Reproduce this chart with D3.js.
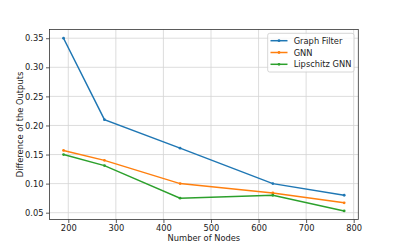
<!DOCTYPE html>
<html><head><meta charset="utf-8">
<script src="https://cdn.jsdelivr.net/npm/d3@7"></script>
<style>body{margin:0;background:#fff}svg{display:block}text{font-family:"DejaVu Sans",sans-serif;fill:#222}</style>
</head><body><svg id="c" width="398" height="247"></svg>
<script>
const nodes = [190, 276, 435, 630, 780];
const graphFilter = [0.350, 0.210, 0.161, 0.100, 0.080];
const gnn = [0.157, 0.140, 0.100, 0.084, 0.067];
const lipschitzGnn = [0.150, 0.131, 0.075, 0.080, 0.053];
const seriesNames = ["Graph Filter", "GNN", "Lipschitz GNN"];
const colors = ["#1f77b4", "#ff7f0e", "#2ca02c"];
const xTicks = [200, 300, 400, 500, 600, 700, 800];
const yTicks = [0.05, 0.10, 0.15, 0.20, 0.25, 0.30, 0.35];

const L = 49.5, R = 358.3, T = 29.5, B = 219.5;
const svg = d3.select("#c");
const x = d3.scaleLinear().domain([160.5, 809.7]).range([L, R]);
const y = d3.scaleLinear().domain([0.0383, 0.365]).range([B, T]);
const fs = 8.3;

// grid
svg.append("g").selectAll("line").data(xTicks).join("line")
  .attr("x1", d => x(d)).attr("x2", d => x(d)).attr("y1", T).attr("y2", B)
  .attr("stroke", "#d4d4d4").attr("stroke-width", 0.8);
svg.append("g").selectAll("line").data(yTicks).join("line")
  .attr("y1", d => y(d)).attr("y2", d => y(d)).attr("x1", L).attr("x2", R)
  .attr("stroke", "#d4d4d4").attr("stroke-width", 0.8);

// axes
const xa = svg.append("g").attr("transform", `translate(0,${B})`)
  .call(d3.axisBottom(x).tickValues(xTicks).tickFormat(d3.format("d")).tickSize(3.5).tickPadding(2.5));
const ya = svg.append("g").attr("transform", `translate(${L},0)`)
  .call(d3.axisLeft(y).tickValues(yTicks).tickFormat(d3.format(".2f")).tickSize(3.5).tickPadding(2.5));
[xa, ya].forEach(a => {
  a.select(".domain").remove();
  a.selectAll("line").attr("stroke", "#333").attr("stroke-width", 0.8);
  a.selectAll("text").attr("font-size", fs).attr("font-family", "DejaVu Sans").attr("fill", "#222");
});
svg.append("rect").attr("x", L).attr("y", T).attr("width", R - L).attr("height", B - T)
  .attr("fill", "none").attr("stroke", "#333").attr("stroke-width", 0.8);

// series
const data = [graphFilter, gnn, lipschitzGnn];
const line = d3.line().x((d, i) => x(nodes[i])).y(d => y(d));
data.forEach((s, k) => {
  svg.append("path").datum(s).attr("d", line).attr("fill", "none")
    .attr("stroke", colors[k]).attr("stroke-width", 1.5);
  svg.append("g").selectAll("circle").data(s).join("circle")
    .attr("cx", (d, i) => x(nodes[i])).attr("cy", d => y(d)).attr("r", 1.4).attr("fill", colors[k]);
});

// labels
svg.append("text").attr("x", (L + R) / 2).attr("y", 241).attr("text-anchor", "middle")
  .attr("font-size", fs).text("Number of Nodes");
svg.append("text").attr("transform", `translate(22.5,${(T + B) / 2}) rotate(-90)`)
  .attr("text-anchor", "middle").attr("font-size", fs).text("Difference of the Outputs");

// legend
const lg = svg.append("g");
lg.append("rect").attr("x", 267.7).attr("y", 33.3).attr("width", 86.3).attr("height", 38.7)
  .attr("rx", 2).attr("fill", "#fff").attr("fill-opacity", 0.8).attr("stroke", "#ccc").attr("stroke-width", 0.8);
seriesNames.forEach((n, k) => {
  const yy = 40.7 + k * 11.8;
  lg.append("line").attr("x1", 270.5).attr("x2", 287.5).attr("y1", yy).attr("y2", yy)
    .attr("stroke", colors[k]).attr("stroke-width", 1.5);
  lg.append("circle").attr("cx", 279).attr("cy", yy).attr("r", 1.4).attr("fill", colors[k]);
  lg.append("text").attr("x", 293.7).attr("y", yy + 3).attr("font-size", fs).text(n);
});
</script></body></html>
